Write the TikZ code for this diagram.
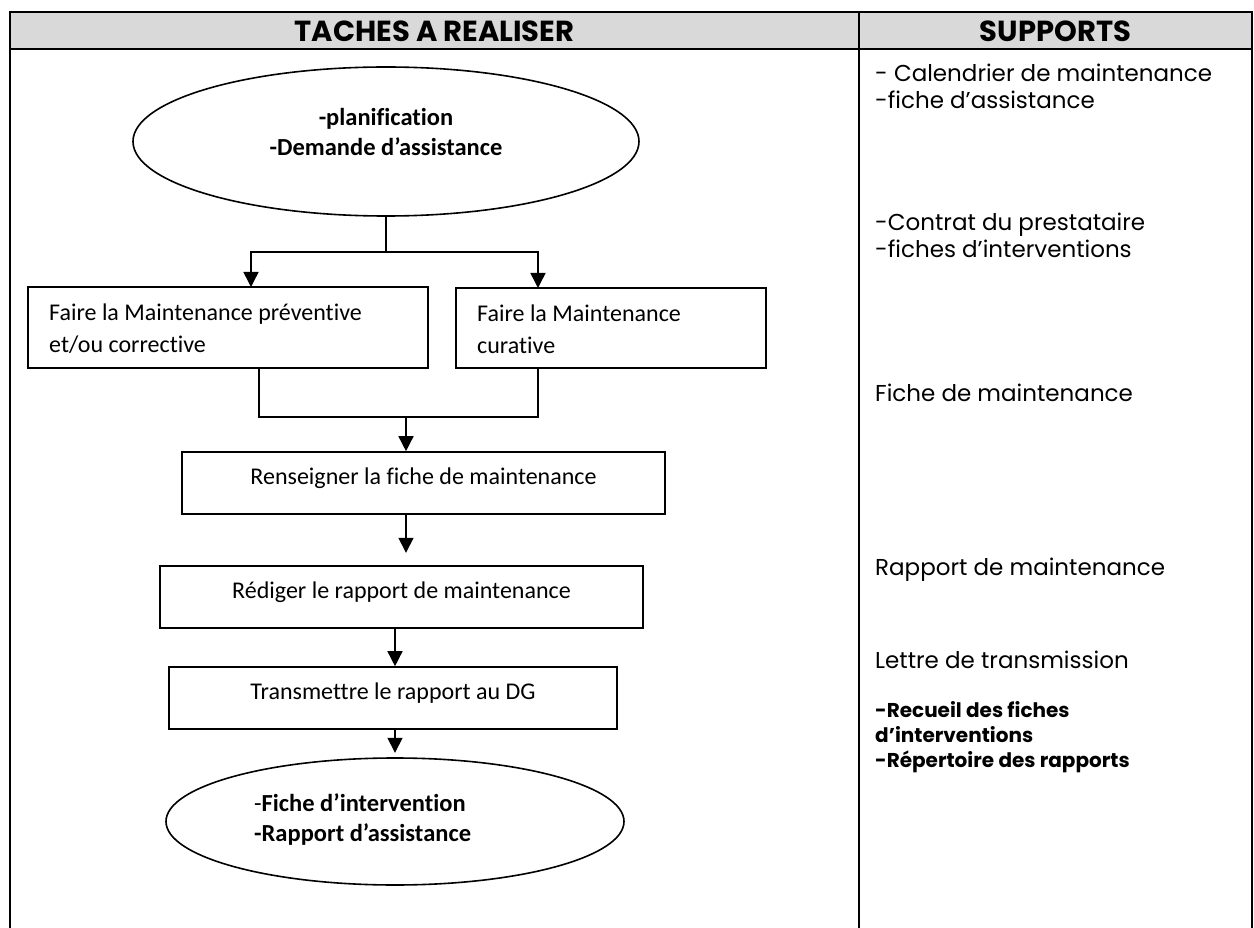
\documentclass[tikz,border=0pt]{standalone}
\usepackage{fontspec}
\usetikzlibrary{arrows.meta,shapes.geometric}
\newfontfamily\gothic{Poppins}
\newfontfamily\calib[Ligatures=NoCommon]{Carlito}
\definecolor{headgray}{HTML}{D9D9D9}
\tikzset{
  grid/.style={line width=2pt, line cap=rect},
  taskbox/.style={draw, line width=1.6pt, rectangle, inner sep=0pt},
  oval/.style={draw, line width=1.6pt, ellipse, inner sep=0pt},
  flowtext/.style={font=\calib\fontsize{24}{32}\selectfont, inner sep=0pt},
  ovaltext/.style={font=\calib\bfseries\fontsize{24.5}{30}\selectfont, inner sep=0pt, align=left},
  supptext/.style={font=\gothic\fontsize{23}{27}\selectfont, inner sep=0pt, anchor=west, align=left},
  headtext/.style={font=\gothic\bfseries\fontsize{29}{30}\selectfont, inner sep=0pt},
  link/.style={line width=1.5pt},
  arr/.style={line width=1.5pt, -{Triangle[length=15pt,width=15pt]}}
}
\begin{document}
\begin{tikzpicture}[x=1pt, y=-1pt]
\useasboundingbox (0,0) rectangle (1254,928);
\fill[white] (0,0) rectangle (1254,928);

% table frame and header row
\fill[headgray] (10,12) rectangle (1252,49);
\draw[grid] (10,928) -- (10,12) -- (1252,12) -- (1252,928);
\draw[grid] (10,49) -- (1252,49);
\draw[grid] (859,12) -- (859,928);
\node[headtext] (h1) at (434.5,31) {TACHES A REALISER};
\node[headtext] (h2) at (1055.5,31) {SUPPORTS};

% flowchart: start oval
\node[oval, minimum width=506pt, minimum height=149pt] (e1) at (386,141.5) {};
\node[ovaltext, align=center] (e1t) at (386,132) {-planification\\-Demande d’assistance};

% two maintenance branches
\node[taskbox, minimum width=400pt, minimum height=81pt] (b1) at (228,327.5) {};
\node[flowtext, anchor=west, align=left] (b1t) at (49,329) {Faire la Maintenance préventive\\et/ou corrective};
\node[taskbox, minimum width=310pt, minimum height=80pt] (b2) at (611,328) {};
\node[flowtext, anchor=west, align=left] (b2t) at (477,329) {Faire la Maintenance\\curative};

% sequential steps
\node[taskbox, minimum width=483pt, minimum height=62pt] (b3) at (423.5,483) {};
\node[flowtext] (b3t) at (423.5,478) {Renseigner la fiche de maintenance};
\node[taskbox, minimum width=483pt, minimum height=62pt] (b4) at (401.5,597) {};
\node[flowtext] (b4t) at (401.5,592) {Rédiger le rapport de maintenance};
\node[taskbox, minimum width=448pt, minimum height=62pt] (b5) at (393,698) {};
\node[flowtext] (b5t) at (393,693) {Transmettre le rapport au DG};

% end oval
\node[oval, minimum width=458pt, minimum height=127pt] (e2) at (395,821.5) {};
\node[ovaltext, anchor=west] (e2t) at (254,820) {{\mdseries -}Fiche d’intervention\\-Rapport d’assistance};

% connectors
\coordinate (split) at (386,252);
\coordinate (b1in) at (251,287);
\coordinate (b2in) at (538,288);
\coordinate (b1out) at (259,368);
\coordinate (b2out) at (538,368);
\coordinate (merge) at (406,417);

\draw[link] (e1.south) -- (split);
\draw[arr] (split) -| (b1in);
\draw[arr] (split) -| (b2in);
\draw[link] (b1out) |- (merge) -| (b2out);
\draw[arr] (merge) -- (merge |- b3.north);
\draw[arr] (b3.south -| merge) -- ++(0,38);
\draw[arr] (b4.south -| e2) -- (b5.north -| e2);
\draw[arr] (b5.south -| e2) -- ++(0,23);

% supports column
\node[supptext] (s1) at (875,86) {- Calendrier de maintenance\\-fiche d’assistance};
\node[supptext] (s2) at (875,235) {-Contrat du prestataire\\-fiches d’interventions};
\node[supptext] (s3) at (875,393) {Fiche de maintenance};
\node[supptext] (s4) at (875,570) {Rapport de maintenance};
\node[supptext] (s5) at (875,660) {Lettre de transmission};
\node[supptext, font=\gothic\bfseries\fontsize{20}{25}\selectfont] (s6) at (875,737) {-Recueil des fiches\\d’interventions\\-Répertoire des rapports};
\end{tikzpicture}
\end{document}
